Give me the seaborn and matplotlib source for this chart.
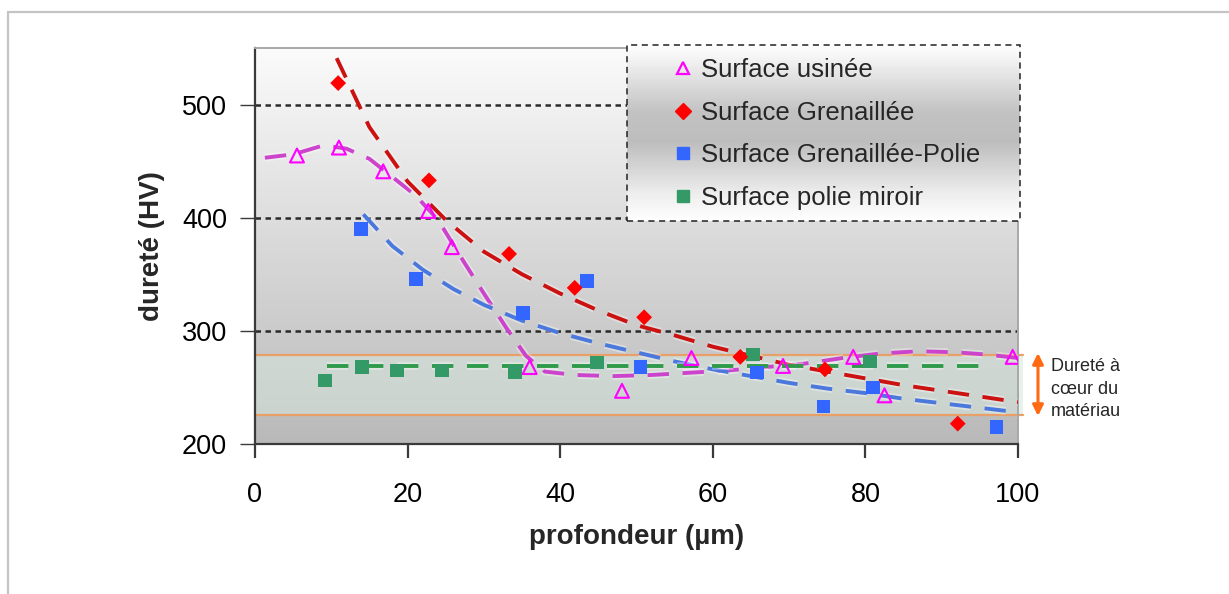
import numpy as np
import pandas as pd
import matplotlib
matplotlib.use("Agg")
import matplotlib.pyplot as plt
import seaborn as sns
from matplotlib.patches import Rectangle
from matplotlib.colors import LinearSegmentedColormap
from matplotlib.lines import Line2D
import matplotlib.patheffects as pe

# ---------------- data ----------------
usinee_x = [5.5, 11.0, 16.8, 22.7, 25.8, 36.0, 48.1, 57.2, 69.2, 78.4, 82.5, 99.3]
usinee_y = [455, 462, 441, 406, 374, 268, 247, 276, 269, 277, 243, 277]

gren_x = [10.9, 22.8, 33.3, 41.9, 51.0, 63.6, 74.7, 92.1]
gren_y = [519, 433, 368, 338, 312, 277, 266, 218]

gp_x = [13.9, 21.1, 35.1, 43.5, 50.5, 65.8, 74.5, 81.0, 97.2]
gp_y = [390, 346, 316, 344, 268, 263, 233, 250, 215]

miroir_x = [9.2, 14.0, 18.6, 24.5, 34.1, 44.8, 65.3, 80.6]
miroir_y = [256, 268, 265, 265, 263.5, 272, 279, 273]

# trend lines
t_usinee_x = [1.3, 5, 9, 12, 15, 18, 21, 24, 27, 30, 33, 35.5, 38, 42, 47, 52, 57, 62, 67, 72, 77, 82, 87, 92, 96, 100]
t_usinee_y = [453, 456, 464, 461, 452, 436, 420, 398, 365, 333, 302, 278, 264, 261, 260, 261, 263, 265, 268, 271, 276, 280, 282, 281, 279, 276]

t_gren_x = [10.7, 15, 20, 25, 30, 35, 40, 45, 50, 55, 60, 65, 70, 75, 80, 85, 90, 95, 100]
t_gren_y = [541, 480, 432, 398, 370, 350, 333, 318, 305, 296, 286, 278, 270, 264, 258, 252, 247, 242, 237]

t_gp_x = [14.2, 18, 22, 26, 30, 35, 40, 45, 50, 55, 60, 65, 70, 75, 80, 85, 90, 95, 100]
t_gp_y = [403, 375, 354, 337, 323, 309, 298, 289, 281, 273, 266, 260, 254, 249, 245, 240, 236, 232, 228]

t_miroir_x = [9.4, 96.0]
t_miroir_y = [269, 269]

band_low, band_high = 226, 279

labels = ["Surface usinée", "Surface Grenaillée", "Surface Grenaillée-Polie", "Surface polie miroir"]
colors = ["#ff00ff", "#ff0000", "#3366ff", "#339966"]
line_colors = ["#cc44cc", "#cc1111", "#4a78dd", "#2f9a4a"]

x_ticks = [0, 20, 40, 60, 80, 100]
y_ticks = [200, 300, 400, 500]

# ---------------- figure ----------------
sns.set_style("white")
plt.rcParams["font.family"] = ["Liberation Sans", "DejaVu Sans"]

W, H = 1229, 594
fig = plt.figure(figsize=(W / 100, H / 100), dpi=100)
L, R, T, B = 255, 1018, 48, 444
ax = fig.add_axes([L / W, 1 - B / H, (R - L) / W, (B - T) / H])

# outer light border
fig.add_artist(Rectangle((8 / W, -0.2), 1.5, 1 - 12 / H + 0.2, transform=fig.transFigure,
                         fill=False, edgecolor="#c4c4c4", lw=1.6))

ax.set_xlim(0, 100)
ax.set_ylim(200, 550)

# gradient background of plot area
bg = LinearSegmentedColormap.from_list("bg", ["#b9b9b9", "#d9d9d9", "#fbfbfb"])
ax.imshow(np.linspace(0, 1, 256).reshape(-1, 1), cmap=bg, origin="lower",
          extent=[0, 100, 200, 550], aspect="auto", zorder=0, interpolation="bicubic")

# core hardness band
ax.add_patch(Rectangle((0, band_low), 100.6, band_high - band_low, facecolor="#d6e6dc",
                       alpha=0.55, edgecolor="none", zorder=1, clip_on=False))
for yb in (band_low, band_high):
    ax.plot([0, 100.6], [yb, yb], color="#e8a068", lw=1.6, zorder=1.2, clip_on=False)

# dotted grid lines
for yg in [300, 400, 500]:
    ax.axhline(yg, color="#2a2a2a", lw=1.8, ls=(0, (2.2, 1.8)), zorder=1.5)

# trend lines
glow = [pe.Stroke(linewidth=5.5, foreground="white", alpha=0.35), pe.Normal()]
trend = [(t_usinee_x, t_usinee_y), (t_gren_x, t_gren_y), (t_gp_x, t_gp_y), (t_miroir_x, t_miroir_y)]
for (tx, ty), c in zip(trend, line_colors):
    sns.lineplot(x=tx, y=ty, ax=ax, color=c, lw=2.8, sort=False, estimator=None,
                 linestyle=(0, (5.5, 3.5)), zorder=3, path_effects=glow)

# markers
sns.scatterplot(x=miroir_x, y=miroir_y, ax=ax, marker="s", s=95, color=colors[3],
                edgecolor="none", zorder=4)
sns.scatterplot(x=gp_x, y=gp_y, ax=ax, marker="s", s=95, color=colors[2],
                edgecolor="none", zorder=4)
sns.scatterplot(x=gren_x, y=gren_y, ax=ax, marker="D", s=65, color=colors[1],
                edgecolor="none", zorder=4)
sns.scatterplot(x=usinee_x, y=usinee_y, ax=ax, marker="^", s=100, facecolor="none",
                edgecolor=colors[0], linewidth=1.5, zorder=4)

# legend box with vertical gradient built from thin strips (bottom -> top)
lx0, lx1 = (627 - L) / (R - L), (1020 - L) / (R - L)
ly1, ly0 = (B - 45) / (B - T), (B - 221) / (B - T)
lg = LinearSegmentedColormap.from_list(
    "lg", [(0.0, "#ffffff"), (0.15, "#eeeeee"), (0.45, "#bdbdbd"),
           (0.62, "#c2c2c2"), (0.88, "#ececec"), (1.0, "#ffffff")])
nstrip = 120
hs = (ly1 - ly0) / nstrip
for i in range(nstrip):
    ax.add_patch(Rectangle((lx0, ly0 + i * hs), lx1 - lx0, hs * 1.05,
                           transform=ax.transAxes, facecolor=lg((i + 0.5) / nstrip),
                           edgecolor="none", zorder=5, clip_on=False))
ax.add_patch(Rectangle((lx0, ly0), lx1 - lx0, ly1 - ly0, transform=ax.transAxes,
                       fill=False, edgecolor="#222222", lw=1.1, ls=(0, (4, 3)),
                       zorder=5.5, clip_on=False))

handles = [
    Line2D([], [], ls="none", marker="^", markersize=9, markerfacecolor="none",
           markeredgecolor=colors[0], markeredgewidth=1.6),
    Line2D([], [], ls="none", marker="D", markersize=8, color=colors[1]),
    Line2D([], [], ls="none", marker="s", markersize=9, color=colors[2]),
    Line2D([], [], ls="none", marker="s", markersize=9, color=colors[3]),
]
leg = ax.legend(handles, labels, loc="upper left",
                bbox_to_anchor=((673 - L) / (R - L), (B - 58) / (B - T)),
                frameon=False, fontsize=18.5, handlelength=0.8, handletextpad=0.3,
                labelspacing=0.72, borderaxespad=0, borderpad=0)
leg.set_zorder(6)

# spines & ticks
for s in ["left", "bottom"]:
    ax.spines[s].set_color("#3a3a3a")
    ax.spines[s].set_linewidth(1.6)
for s in ["top", "right"]:
    ax.spines[s].set_color("#a8a8a8")
    ax.spines[s].set_linewidth(1.4)
ax.set_xlim(0, 100)
ax.set_ylim(200, 550)
ax.set_xticks(x_ticks)
ax.set_yticks(y_ticks)
ax.tick_params(axis="x", direction="out", length=10, width=1.6, colors="#3a3a3a",
               labelsize=19.5, labelcolor="black", pad=17, bottom=True)
ax.tick_params(axis="y", direction="out", length=11, width=1.0, colors="#3a3a3a",
               labelsize=19.5, labelcolor="black", pad=9, left=True)

ax.set_xlabel("profondeur (µm)", fontsize=20, fontweight="bold", labelpad=12)
ax.set_ylabel("dureté (HV)", fontsize=20, fontweight="bold", labelpad=12)

# core-hardness annotation
ax.annotate("", xy=(1038 / W, 1 - 353 / H), xytext=(1038 / W, 1 - 416 / H),
            xycoords="figure fraction", textcoords="figure fraction",
            arrowprops=dict(arrowstyle="<|-|>", color="#ff6a13", lw=2.2,
                            mutation_scale=16, shrinkA=0, shrinkB=0))
fig.text(1051 / W, 1 - 389 / H, "Dureté à\ncœur du\nmatériau", fontsize=13,
         ha="left", va="center", linespacing=1.45)

fig.savefig("out.png", dpi=100)
